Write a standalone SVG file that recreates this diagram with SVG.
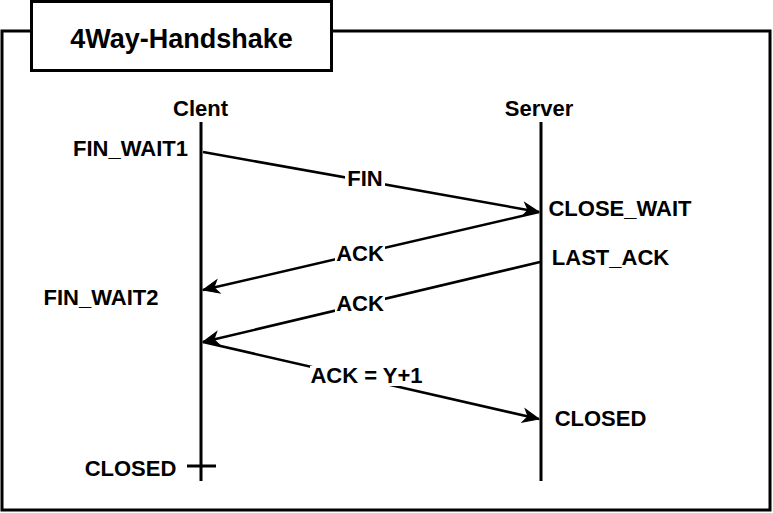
<svg xmlns="http://www.w3.org/2000/svg" width="773" height="513" viewBox="0 0 773 513">
<style>
  text { font-family: "Liberation Sans", Arial, sans-serif; font-weight: bold; fill: #000; }
  .lbl { font-size: 22px; text-anchor: middle; }
  .frame { fill: none; stroke: #000; stroke-width: 3; }
  .life { stroke: #000; stroke-width: 3; fill: none; }
  .msg { stroke: #000; stroke-width: 2.5; fill: none; marker-end: url(#arr); }
  .bg { fill: #fff; stroke: none; }
</style>
<defs>
  <marker id="arr" markerUnits="userSpaceOnUse" markerWidth="20" markerHeight="20" viewBox="-16 -8 18 16" refX="0" refY="0" orient="auto">
    <path d="M0,0 L-14,-6 L-10,0 L-14,6 Z" fill="#000" stroke="#000" stroke-width="1" stroke-linejoin="miter"/>
  </marker>
</defs>
<rect x="0" y="0" width="773" height="513" fill="#fff"/>
<g id="frame">
  <rect class="frame" x="2" y="31" width="768" height="479"/>
</g>
<g id="title">
  <rect x="31.5" y="1.5" width="300" height="69" fill="#fff" stroke="#000" stroke-width="3"/>
  <text x="181.5" y="48" style="font-size:27px" text-anchor="middle">4Way-Handshake</text>
</g>
<g id="client">
  <text class="lbl" x="200.5" y="116">Clent</text>
  <line class="life" x1="201" y1="122" x2="201" y2="481"/>
  <line class="life" x1="187" y1="466" x2="216" y2="466"/>
</g>
<g id="server">
  <text class="lbl" x="539" y="116">Server</text>
  <line class="life" x1="541" y1="122" x2="541" y2="481"/>
</g>
<g id="states">
  <text class="lbl" x="130.5" y="156">FIN_WAIT1</text>
  <text class="lbl" x="620" y="216">CLOSE_WAIT</text>
  <text class="lbl" x="610.5" y="265">LAST_ACK</text>
  <text class="lbl" x="101" y="305">FIN_WAIT2</text>
  <text class="lbl" x="600.5" y="426">CLOSED</text>
  <text class="lbl" x="130.5" y="476">CLOSED</text>
</g>
<g id="connectors">
  <line class="msg" x1="203" y1="152" x2="539" y2="212"/>
  <line class="msg" x1="539" y1="212" x2="203" y2="290"/>
  <line class="msg" x1="540" y1="262" x2="203" y2="342"/>
  <line class="msg" x1="203" y1="342" x2="539" y2="419"/>
  <rect class="bg" x="345" y="168" width="40" height="20"/>
  <text class="lbl" x="365" y="186">FIN</text>
  <rect class="bg" x="335" y="243" width="50" height="20"/>
  <text class="lbl" x="360" y="261">ACK</text>
  <rect class="bg" x="335" y="293" width="50" height="20"/>
  <text class="lbl" x="360" y="311">ACK</text>
  <rect class="bg" x="310" y="366" width="110" height="20"/>
  <text class="lbl" x="366.5" y="383">ACK = Y+1</text>
</g>
</svg>
